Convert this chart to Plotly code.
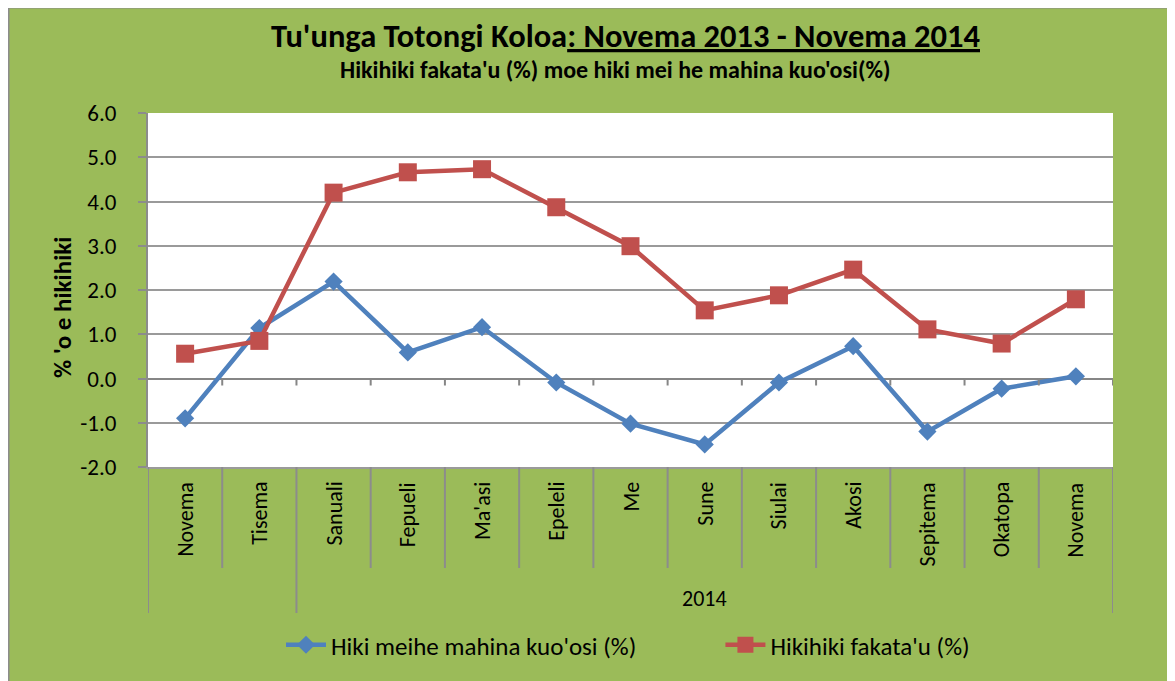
import plotly.graph_objects as go

months = ["Novema", "Tisema", "Sanuali", "Fepueli", "Ma'asi", "Epeleli", "Me",
          "Sune", "Siulai", "Akosi", "Sepitema", "Okatopa", "Novema"]
group_label = "2014"
group_start = 2  # index of first 2014 month
monthly_change = [-0.90, 1.14, 2.19, 0.59, 1.16, -0.09, -1.02, -1.49, -0.09, 0.73, -1.20, -0.23, 0.05]
annual_change = [0.56, 0.85, 4.20, 4.66, 4.73, 3.87, 2.99, 1.54, 1.88, 2.46, 1.11, 0.79, 1.79]
name_monthly = "Hiki meihe mahina kuo'osi (%)"
name_annual = "Hikihiki fakata'u (%)"
y_ticks = [-2, -1, 0, 1, 2, 3, 4, 5, 6]
y_ticktext = ["-2.0", "-1.0", "0.0", "1.0", "2.0", "3.0", "4.0", "5.0", "6.0"]

GREEN = "#9BBB59"
BLUE = "#4F81BD"
RED = "#C0504D"
GRID = "#9A9A9A"
FONT = "Carlito, Liberation Sans Narrow, Open Sans, sans-serif"

OFF = 8  # page body margin
W, H = 1175 - OFF, 681 - OFF
L, T = 148 - OFF, 113 - OFF
R = W - (1113 - OFF)
B = H - (467 - OFF)
pw, ph = W - L - R, H - T - B


def px_x(px):
    return (px - OFF - L) / pw


def px_y(py):
    return (H - B - (py - OFF)) / ph


x_idx = list(range(len(months)))

fig = go.Figure()
fig.add_trace(go.Scatter(
    x=x_idx, y=monthly_change, name=name_monthly + "\u00a0" * 14, mode="lines+markers",
    line=dict(color=BLUE, width=4.5),
    marker=dict(symbol="diamond", size=14, color=BLUE),
))
fig.add_trace(go.Scatter(
    x=x_idx, y=annual_change, name=name_annual, mode="lines+markers",
    line=dict(color=RED, width=4.5),
    marker=dict(symbol="square", size=18, color=RED),
))

shapes = []
n = len(months)
# small ticks below the zero line at category boundaries
for k in range(1, n + 1):
    shapes.append(dict(type="line", xref="x", yref="y", x0=k - 0.5, x1=k - 0.5,
                       ysizemode="pixel", yanchor=0, y0=0, y1=-7,
                       line=dict(color="#868686", width=2)))
# separators in the category label area
for k in range(0, n + 1):
    long_line = k in (0, group_start, n)
    shapes.append(dict(type="line", xref="x", yref="paper", x0=k - 0.5, x1=k - 0.5,
                       y0=0, y1=px_y(613) if long_line else px_y(568),
                       line=dict(color="#8C8C8C", width=2)))
# gray chart border (left/top)
shapes.append(dict(type="line", xref="paper", yref="paper", x0=px_x(8), x1=px_x(8),
                   y0=px_y(700), y1=px_y(7), line=dict(color="#8C8C8C", width=3)))
shapes.append(dict(type="line", xref="paper", yref="paper", x0=px_x(8), x1=px_x(1185),
                   y0=px_y(7), y1=px_y(7), line=dict(color="#8C8C8C", width=3)))

annotations = []
for i, m in enumerate(months):
    annotations.append(dict(x=i, xref="x", y=px_y(480), yref="paper", text=m,
                            textangle=-90, showarrow=False, xanchor="center", yanchor="top",
                            font=dict(family=FONT, size=22, color="black")))
annotations.append(dict(x=(group_start + n - 1) / 2, xref="x", y=px_y(598), yref="paper",
                        text=group_label, showarrow=False, xanchor="center", yanchor="middle",
                        font=dict(family=FONT, size=22, color="black")))
annotations.append(dict(x=px_x(625), xref="paper", y=px_y(36), yref="paper",
                        text="<b>Tu'unga Totongi Koloa<u>: Novema 2013 - Novema 2014</u></b>",
                        showarrow=False, xanchor="center", yanchor="middle",
                        font=dict(family=FONT, size=32.5, color="black")))
annotations.append(dict(x=px_x(615), xref="paper", y=px_y(69), yref="paper",
                        text="<b>Hikihiki fakata'u (%) moe hiki mei he mahina kuo'osi(%)</b>",
                        showarrow=False, xanchor="center", yanchor="middle",
                        font=dict(family=FONT, size=24, color="black")))
annotations.append(dict(x=px_x(62), xref="paper", y=px_y(308), yref="paper",
                        text="<b>% 'o e hikihiki</b>", textangle=-90,
                        showarrow=False, xanchor="center", yanchor="middle",
                        font=dict(family=FONT, size=25, color="black")))

fig.update_layout(
    width=W, height=H,
    margin=dict(l=L, r=R, t=T, b=B, autoexpand=False),
    paper_bgcolor=GREEN, plot_bgcolor="white",
    font=dict(family=FONT, color="black"),
    showlegend=True,
    legend=dict(orientation="h", x=px_x(281), xanchor="left", y=px_y(645), yanchor="middle",
                font=dict(family=FONT, size=25, color="black"), bgcolor="rgba(0,0,0,0)",
                itemwidth=40, traceorder="normal"),
    xaxis=dict(range=[-0.5, n - 0.5], showticklabels=False, showgrid=False, zeroline=False,
               showline=True, linecolor=GRID, linewidth=2, ticks="", fixedrange=True),
    yaxis=dict(range=[-2, 6], tickvals=y_ticks, ticktext=y_ticktext, showgrid=True,
               gridcolor=GRID, gridwidth=1.5, zeroline=True, zerolinecolor="#868686",
               zerolinewidth=2, showline=True, linecolor="#8C8C8C", linewidth=2,
               ticks="outside", ticklen=8, tickcolor="#8C8C8C", tickwidth=2,
               ticklabelstandoff=17,
               tickfont=dict(family=FONT, size=23, color="black")),
    shapes=shapes, annotations=annotations,
)

fig.write_html("out.html")
